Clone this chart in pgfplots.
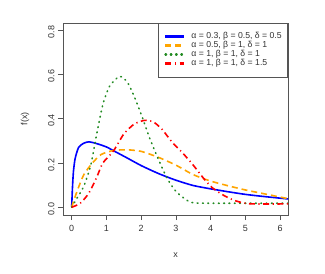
\documentclass[border=0pt]{standalone}
\usepackage{pgfplots}
\pgfplotsset{compat=1.18}
\usepackage{fontspec}
\setmainfont{Liberation Sans}
\definecolor{txt}{HTML}{333333}
\definecolor{frame}{HTML}{555555}
\definecolor{rblue}{RGB}{0,0,255}
\definecolor{rorange}{RGB}{255,165,0}
\definecolor{rgreen}{RGB}{34,139,34}
\definecolor{rred}{RGB}{255,0,0}
\begin{document}
\begin{tikzpicture}
\useasboundingbox (0,0) rectangle (325bp,274bp);
\begin{axis}[
  at={(63bp,59bp)}, anchor=south west,
  scale only axis, width=225bp, height=192bp,
  xmin=-0.25, xmax=6.23, ymin=-0.035, ymax=0.831,
  axis line style={draw=frame, line width=0.6bp},
  xtick={0,1,2,3,4,5,6}, ytick={0,0.2,0.4,0.6,0.8},
  yticklabel style={rotate=90, /pgf/number format/fixed, /pgf/number format/fixed zerofill, /pgf/number format/precision=1},
  /pgf/number format/assume math mode=true,
  tick align=outside, major tick length=5bp,
  tick style={draw=frame, line width=0.6bp},
  xtick pos=bottom, ytick pos=left,
  ticklabel style={font=\fontsize{9}{10}\selectfont, text=txt},
  xticklabel style={yshift=-2bp},
  yticklabel style={xshift=-2bp},
  label style={font=\fontsize{9}{10}\selectfont, text=txt},
  xlabel={x}, ylabel={f(x)},
  xlabel style={at={(axis description cs:0.5,0)}, anchor=center, yshift=-40bp},
  ylabel style={at={(axis description cs:0,0.5)}, anchor=center, yshift=38bp},
  legend style={at={(1,1)}, anchor=north east, draw=frame, line width=0.6bp,
    font=\fontsize{8.7}{9}\selectfont, text=txt, inner xsep=6bp, inner ysep=9bp,
    row sep=0.5bp, nodes={inner sep=0bp, text height=6.5bp, text depth=2bp},
    /tikz/every odd column/.append style={column sep=6bp}},
  legend cell align=left,
  legend image code/.code={\draw[#1, line width=2.2bp] (0bp,0bp) -- (19bp,0bp);},
  every axis plot/.append style={line width=1.6bp},
  clip mode=individual,
]
\addplot[rblue, smooth, tension=0.4] coordinates {
(0,0.0) (0.02,0.08) (0.05,0.16) (0.1,0.22) (0.2,0.27) (0.35,0.289) (0.5,0.295)
(0.7,0.288) (1.0,0.272) (1.3,0.247) (1.6,0.222) (2.0,0.188) (2.5,0.152)
(3.0,0.122) (3.5,0.098) (4.0,0.083) (4.5,0.07) (5.0,0.058) (5.5,0.049)
(6.0,0.041) (6.25,0.037)};
\addlegendentry{α = 0.3, β = 0.5, δ = 0.5}
\addplot[rorange, smooth, tension=0.4, dash pattern=on 6bp off 4bp] coordinates {
(0,0) (0.15,0.07) (0.35,0.147) (0.6,0.2) (0.85,0.238) (1.2,0.256) (1.6,0.259)
(2.0,0.252) (2.5,0.225) (3.0,0.19) (3.5,0.147) (4.0,0.118) (4.5,0.097)
(5.0,0.078) (5.5,0.062) (6.0,0.046) (6.25,0.038)};
\addlegendentry{α = 0.5, β = 1, δ = 1}
\addplot[rgreen, smooth, tension=0.4, line cap=round, dash pattern=on 0.8bp off 4.5bp] coordinates {
(0,0) (0.15,0.04) (0.35,0.095) (0.55,0.19) (0.72,0.33) (0.9,0.465) (1.1,0.548)
(1.38,0.59) (1.6,0.565) (1.8,0.5) (2.0,0.42) (2.25,0.31) (2.5,0.215)
(2.75,0.13) (3.0,0.072) (3.3,0.033) (3.5,0.02) (4.0,0.018) (5.0,0.018) (6.25,0.018)};
\addlegendentry{α = 1, β = 1, δ = 1}
\addplot[rred, smooth, tension=0.4, dash pattern=on 6bp off 3.5bp on 1.2bp off 3.5bp] coordinates {
(0,0) (0.25,0.018) (0.5,0.065) (0.72,0.135) (0.9,0.2) (1.2,0.253) (1.5,0.33)
(1.8,0.375) (2.1,0.392) (2.35,0.385) (2.6,0.352) (2.9,0.292) (3.2,0.244)
(3.5,0.19) (3.8,0.13) (4.05,0.088) (4.35,0.056) (4.65,0.033) (4.9,0.021)
(5.2,0.015) (6.25,0.015)};
\addlegendentry{α = 1, β = 1, δ = 1.5}
\end{axis}
\end{tikzpicture}
\end{document}
